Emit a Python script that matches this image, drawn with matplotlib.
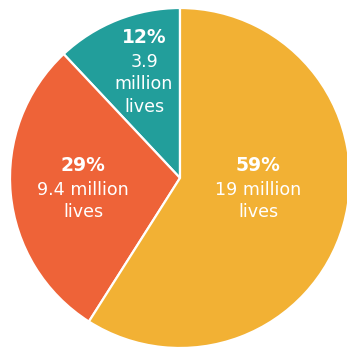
import matplotlib
matplotlib.use("Agg")
import matplotlib.pyplot as plt

# data
shares = [12, 29, 59]
pct_labels = ["12%", "29%", "59%"]
detail_labels = [["3.9", "million", "lives"], ["9.4 million", "lives"], ["19 million", "lives"]]
colors = ["#229E9B", "#EE6338", "#F2B134"]

# label anchors in pixel coords of the 347px image (centre x, baseline of first line)
label_px = [(144, 43), (83, 171), (258, 171)]
line_gap = [24, 22.5]

W = 347
cx, cy, r = 180, 178, 170

def to_data(px, py):
    return (px - cx) / r, (cy - py) / r

fig = plt.figure(figsize=(W / 100, W / 100), dpi=100)
ax = fig.add_axes([0, 0, 1, 1])
ax.pie(shares, colors=colors, startangle=90, counterclock=True, radius=1,
       wedgeprops=dict(edgecolor="white", linewidth=1.6))
ax.set_xlim(to_data(0, 0)[0], to_data(W, 0)[0])
ax.set_ylim(to_data(0, W)[1], to_data(0, 0)[1])
ax.set_aspect("equal")
ax.axis("off")

for (px, py), pct, det in zip(label_px, pct_labels, detail_labels):
    x, y = to_data(px, py)
    ax.text(x, y, pct, ha="center", va="baseline", color="white",
            fontsize=13.5, fontweight="bold", family="DejaVu Sans")
    yy = py + line_gap[0]
    for line in det:
        x2, y2 = to_data(px, yy)
        ax.text(x2, y2, line, ha="center", va="baseline", color="white",
                fontsize=12.6, family="DejaVu Sans")
        yy += line_gap[1]

fig.savefig("out.png", dpi=100, facecolor="white")
